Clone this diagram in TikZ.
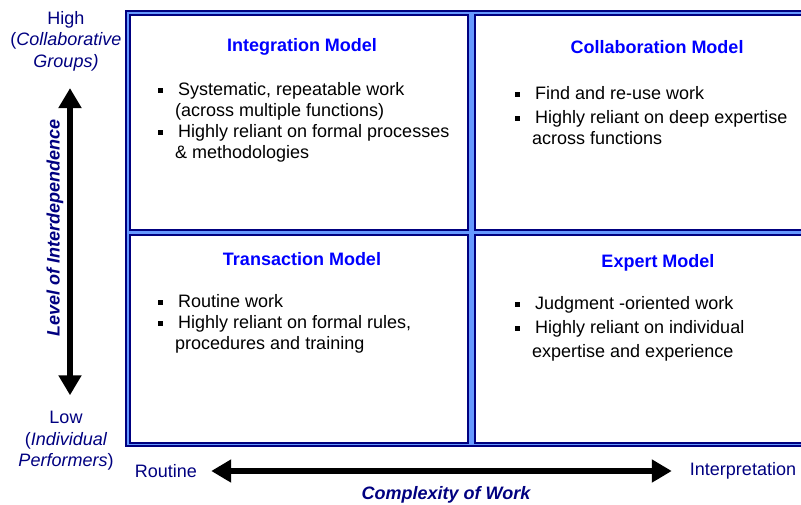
\documentclass[tikz,border=0pt]{standalone}
\usepackage{fontspec}
\setmainfont{Liberation Sans}
\usetikzlibrary{arrows.meta, positioning, calc}
\definecolor{navy}{HTML}{000080}
\definecolor{frameblue}{HTML}{6699FF}
\definecolor{titleblue}{HTML}{0000FF}
\newcommand{\bul}{\makebox[20pt][l]{\rule[2.4pt]{4.5pt}{4.5pt}}}
\newcommand{\cont}{\hspace*{17pt}}

\begin{document}
\begin{tikzpicture}[x=1pt, y=-1pt,
    cell/.style={rectangle, draw=navy, line width=2pt, fill=white, minimum width=338pt, inner sep=0pt},
    title/.style={font=\fontsize{18}{21}\selectfont\bfseries, text=titleblue, inner sep=0pt},
    body/.style={font=\fontsize{18}{21}\selectfont, align=left, anchor=north west, inner sep=0pt},
    side/.style={font=\fontsize{18}{21.5}\selectfont, text=navy, align=center, inner sep=2pt},
    axis/.style={font=\fontsize{18}{21}\selectfont\bfseries\itshape, text=navy, inner sep=0pt},
    bigarr/.style={{Triangle[length=20pt, width=22pt]}-{Triangle[length=20pt, width=22pt]}, line width=6.5pt},
]
    \useasboundingbox (0,0) rectangle (801,504);
    \clip (0,0) rectangle (801,504);
    % outer frame
    \draw[navy, line width=2pt, fill=frameblue] (126,11) rectangle (840,446);

    % the four quadrants
    \node[cell, minimum height=214.5pt] (integ) at (299,122.25) {};
    \node[cell, minimum height=214.5pt] (collab) at (644,122.25) {};
    \node[cell, minimum height=208pt] (trans) at (299,338.5) {};
    \node[cell, minimum height=208pt] (expert) at (644,338.5) {};

    \node[title] (integt) at (302,47) {Integration Model};
    \node[body] (integb) at (158,82) {\bul Systematic, repeatable work\\
        \cont(across multiple functions)\\
        \bul Highly reliant on formal processes\\
        \cont\& methodologies};

    \node[title] (collabt) at (657,47) {Collaboration Model};
    \node[body] (collabb) at (515,86) {\bul Find and re-use work\\[3pt]
        \bul Highly reliant on deep expertise\\
        \cont across functions};

    \node[title] (transt) at (302,259) {Transaction Model};
    \node[body] (transb) at (158,294) {\bul Routine work\\
        \bul Highly reliant on formal rules,\\
        \cont procedures and training};

    \node[title] (expertt) at (658,263) {Expert Model};
    \node[body] (expertb) at (515,296) {\bul Judgment -oriented work\\[3pt]
        \bul Highly reliant on individual\\[3pt]
        \cont expertise and experience};

    % vertical axis
    \node[side] (high) at (66,41) {High\\(\textit{Collaborative}\\\textit{Groups)}};
    \node[side] (low) at (66,441) {Low\\(\textit{Individual}\\\textit{Performers})};
    \draw[bigarr, shorten <=15pt, shorten >=14pt] ([xshift=4pt]high.south) -- ([xshift=4pt]low.north);
    \node[axis, rotate=90] (level) at (55,228) {Level of Interdependence};

    % horizontal axis
    \node[side, inner sep=0pt] (routine) at (166,471) {Routine};
    \node[side, inner sep=0pt] (interp) at (743,471) {Interpretation};
    \draw[bigarr, shorten <=14pt, shorten >=18pt] (routine) -- (interp);
    \node[axis] (complex) at (446,495) {Complexity of Work};
\end{tikzpicture}
\end{document}
